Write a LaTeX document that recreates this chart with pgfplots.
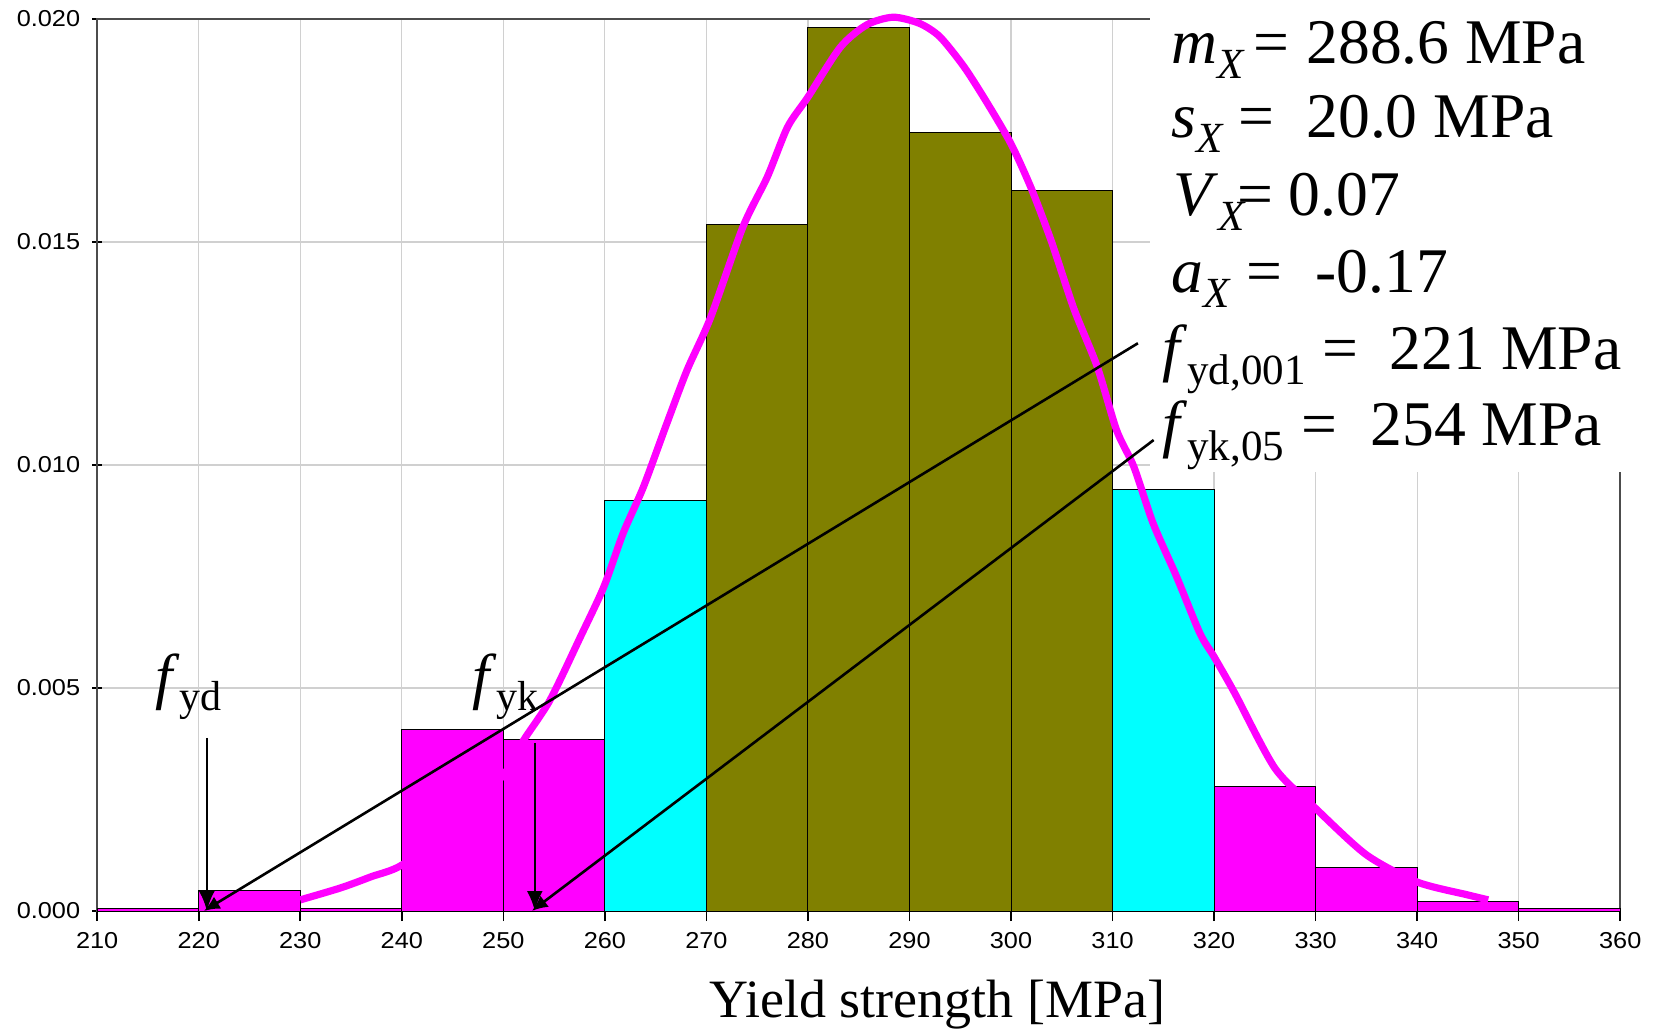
\documentclass[border=0pt]{standalone}
\usepackage{fontspec}
\setmainfont{Liberation Serif}
\setsansfont{Liberation Sans}
\newfontfamily\tickfont[FakeStretch=1.1]{Liberation Sans}
\usepackage{pgfplots}
\pgfplotsset{compat=1.18}
\usetikzlibrary{arrows.meta}
\definecolor{pinkbar}{RGB}{255,0,255}
\definecolor{cyanbar}{RGB}{0,255,255}
\definecolor{olivebar}{RGB}{128,128,0}
\definecolor{gridgray}{RGB}{208,208,208}
\newcommand\sub[1]{\raisebox{-7.5pt}{\fontsize{21.5}{22}\selectfont #1}}
\newcommand\bigtxt{\fontsize{31.8}{32}\selectfont}
\begin{document}
\begin{tikzpicture}
\begin{axis}[
  at={(0pt,0pt)}, anchor=south west,
  scale only axis, width=761.5pt, height=446pt,
  xmin=210, xmax=360, ymin=0, ymax=0.02,
  xtick={210,220,...,360},
  ytick={0,0.005,0.01,0.015,0.02},
  scaled y ticks=false,
  yticklabel style={/pgf/number format/.cd, fixed, fixed zerofill, precision=3},
  /pgf/number format/assume math mode=true,
  tick label style={font=\tickfont\fontsize{11.5}{12}\selectfont},
  xticklabel style={yshift=-2pt},
  grid=major, major grid style={gridgray, line width=0.6pt},
  tick align=outside, major tick length=5pt,
  xtick pos=bottom, ytick pos=left,
  axis line style={black!70, line width=1pt},
  tick style={black, line width=0.8pt},
  ytick style={xshift=2.5pt},
  clip=false,
]
% pink bars
\addplot[ybar, bar width=10, bar shift=0pt, fill=pinkbar, draw=black, line width=0.5pt]
  coordinates {(215,0.00005) (225,0.000455) (235,0.00005) (245,0.00407) (255,0.00385)
               (325,0.00279) (335,0.00098) (345,0.000224) (355,0.00005)};
% cyan bars
\addplot[ybar, bar width=10, bar shift=0pt, fill=cyanbar, draw=black, line width=0.5pt]
  coordinates {(265,0.00921) (315,0.00945)};
% olive bars
\addplot[ybar, bar width=10, bar shift=0pt, fill=olivebar, draw=black, line width=0.5pt]
  coordinates {(275,0.0154) (285,0.0198) (295,0.01745) (305,0.01616)};
% fitted density curve
\addplot[pinkbar, line width=3.6pt, line join=round, smooth, tension=0.45] coordinates {
 (230,0.00025) (234,0.00052) (237,0.00077) (240,0.00103) (245,0.0019) (250,0.00305)
 (252,0.00383) (254.6,0.00473) (257.6,0.00615) (259.9,0.00727) (261.8,0.00847)
 (263.8,0.00951) (266.1,0.01093) (268.1,0.01213) (270.4,0.01330) (273.6,0.01534)
 (276,0.01646) (278,0.01758) (280,0.01825) (283.2,0.01937) (285.8,0.01987)
 (288.4,0.02004) (291,0.0199) (293,0.0196) (295.4,0.01892) (297.7,0.0181)
 (300,0.0172) (302,0.0162) (304,0.01500) (306.2,0.01350) (308.5,0.0122)
 (310.4,0.01078) (312.1,0.00996) (314,0.00869) (316.3,0.0075) (318.6,0.00623)
 (320,0.0057) (322,0.0049) (326,0.0032) (330,0.0023) (335,0.00126) (340,0.00065)
 (345,0.00036) (347,0.00025)};
% vertical arrows
\draw[line width=1.3pt, -{Latex[length=10pt,width=8pt]}] (axis cs:220.8,0.00388) -- (axis cs:220.8,0);
\draw[line width=1.3pt, -{Latex[length=10pt,width=8pt]}] (axis cs:253.1,0.00377) -- (axis cs:253.1,0);
\node[anchor=base west, inner sep=0pt] at (axis cs:215.7,0.00478)
  {\fontsize{31}{31}\selectfont\textit{f}\raisebox{-6.5pt}{\fontsize{21}{21}\selectfont yd}};
\node[anchor=base west, inner sep=0pt] at (axis cs:246.9,0.00478)
  {\fontsize{31}{31}\selectfont\textit{f}\raisebox{-6.5pt}{\fontsize{21}{21}\selectfont yk}};
\coordinate (L1a) at (axis cs:312.5,0.01273);
\coordinate (L1b) at (axis cs:220.5,0);
\coordinate (L2a) at (axis cs:314.05,0.01056);
\coordinate (L2b) at (axis cs:252.8,0);
\end{axis}
% white text box covering the upper-right corner
\fill[white] (526.4pt,219.5pt) rectangle (790pt,460pt);
\draw[line width=1.3pt, -{Latex[length=8pt,width=7pt]}] (L1a) -- (L1b);
\draw[line width=1.3pt, -{Latex[length=8pt,width=7pt]}] (L2a) -- (L2b);
\begin{scope}[every node/.style={anchor=base west, inner sep=0pt}]
\node at (536.9pt,423.85pt) {\bigtxt\textit{m}\sub{\textit{X}}};
\node at (577.8pt,423.85pt) {\bigtxt =};
\node at (604.4pt,423.85pt) {\bigtxt 288.6 MPa};
\node at (536.9pt,386.5pt) {\bigtxt\textit{s}\sub{\textit{X}}};
\node at (570.65pt,386.5pt) {\bigtxt =};
\node at (604.4pt,386.5pt) {\bigtxt 20.0 MPa};
\node at (537.8pt,348pt) {\bigtxt\textit{V}\sub{\textit{X}}};
\node at (569.8pt,348pt) {\bigtxt =};
\node at (595.55pt,348pt) {\bigtxt 0.07};
\node at (536.9pt,309.15pt) {\bigtxt\textit{a}\sub{\textit{X}}};
\node at (574.2pt,309.15pt) {\bigtxt =};
\node at (608.9pt,309.15pt) {\bigtxt -0.17};
\node at (532.4pt,270.85pt) {\bigtxt\textit{f}\sub{yd,001}};
\node at (612.4pt,270.85pt) {\bigtxt =};
\node at (646.15pt,270.85pt) {\bigtxt 221 MPa};
\node at (532.4pt,233pt) {\bigtxt\textit{f}\sub{yk,05}};
\node at (601.75pt,233pt) {\bigtxt =};
\node at (636.4pt,233pt) {\bigtxt 254 MPa};
\end{scope}
\node[anchor=base, inner sep=0pt] at (420pt,-53pt) {\fontsize{27}{27}\selectfont Yield strength [MPa]};
\pgfresetboundingbox
\path (-48.6pt,-59.5pt) rectangle (779.9pt,455.5pt);
\end{tikzpicture}
\end{document}
